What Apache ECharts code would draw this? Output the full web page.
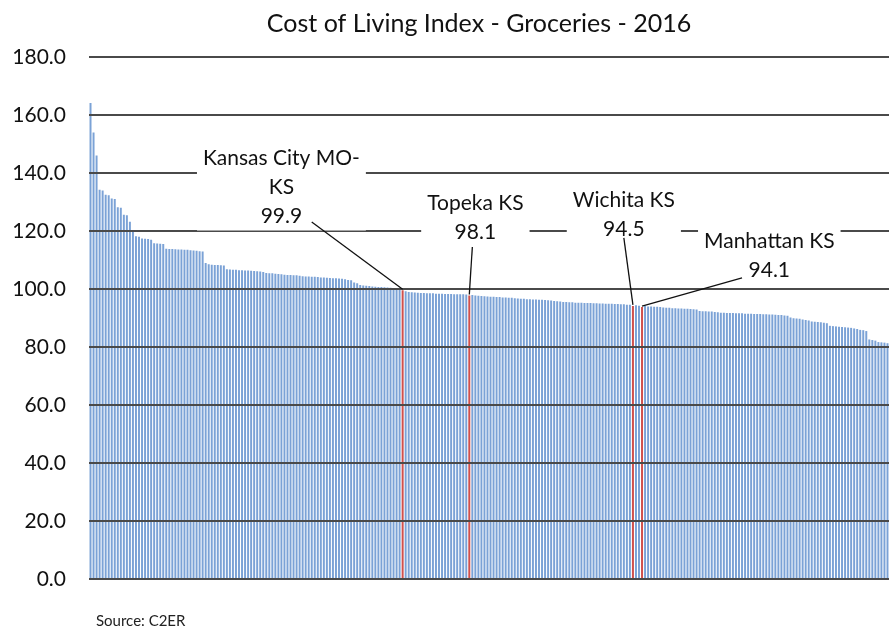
<!DOCTYPE html>
<html>
<head>
<meta charset="utf-8">
<script src="https://cdn.jsdelivr.net/npm/echarts@6/dist/echarts.min.js"></script>
<style>
	html, body { margin: 0; padding: 0; background: #fff; }
	#main { width: 889px; height: 628px; }
</style>
</head>
<body>
<div id="main"></div>
<script>
'use strict';

// grocery index per urban area, sorted high to low
let values = [
	164.1, 154.0, 146.0, 134.2, 134.0, 132.5, 132.3, 131.2, 131.0, 128.2,
	128.0, 125.6, 125.4, 123.2, 120.0, 118.2, 118.0, 117.4, 117.3, 117.2,
	117.0, 115.8, 115.7, 115.6, 115.5,
	113.9, 113.8, 113.8, 113.7, 113.6, 113.6, 113.5, 113.5, 113.4, 113.3, 113.2, 113.0, 112.9,
	109.0, 108.5, 108.4, 108.3, 108.3, 108.2, 108.1,
	106.8, 106.7, 106.6, 106.6, 106.5, 106.5, 106.4, 106.4, 106.3, 106.2, 106.1, 106.0, 105.9,
	105.5, 105.4, 105.4, 105.3, 105.2, 105.1,
	104.9, 104.8, 104.8, 104.7, 104.7, 104.6,
	104.4, 104.3, 104.3, 104.2, 104.2, 104.1, 104.0, 104.0, 103.9, 103.8,
	103.7, 103.7, 103.6, 103.5, 103.4,
	103.1, 103.0, 102.2, 102.0,
	101.4, 101.2, 101.1, 101.0, 100.9,
	100.8, 100.7, 100.7, 100.6, 100.5, 100.4, 100.3, 100.2, 100.1,
	99.9,
	99.2, 99.0, 98.9, 98.8, 98.7,
	98.6, 98.6, 98.5, 98.5, 98.5, 98.4, 98.4, 98.4, 98.3, 98.3, 98.3, 98.2, 98.2, 98.2, 98.2, 98.1,
	98.1,
	97.9, 97.8, 97.7, 97.6, 97.5, 97.4, 97.3, 97.3, 97.2, 97.2, 97.1, 97.1, 97.0, 97.0,
	96.8, 96.7, 96.6, 96.6, 96.5, 96.5, 96.4, 96.4, 96.3, 96.3, 96.2, 96.1, 96.0,
	95.9, 95.8, 95.7,
	95.5, 95.5, 95.4, 95.4, 95.3, 95.3, 95.3, 95.2, 95.2, 95.2, 95.1, 95.1, 95.0,
	95.0, 94.9, 94.9, 94.9, 94.8, 94.8, 94.7, 94.7, 94.6, 94.6,
	94.5,
	94.4, 94.2,
	94.1,
	94.1, 94.0, 94.0, 93.9, 93.9, 93.8,
	93.6, 93.5, 93.5, 93.4, 93.4, 93.3, 93.3, 93.2, 93.2, 93.1, 93.0, 92.9,
	92.4, 92.3, 92.3, 92.2, 92.2, 92.1, 92.0,
	91.8, 91.8, 91.7, 91.7, 91.7, 91.6, 91.6, 91.6, 91.5, 91.5, 91.5, 91.4,
	91.4, 91.4, 91.3, 91.3, 91.2, 91.2, 91.1, 91.0, 91.0, 90.9, 90.8,
	90.2, 89.9, 89.8, 89.7, 89.5, 89.3, 89.1,
	88.8, 88.7, 88.6, 88.5, 88.4, 88.2,
	87.3, 87.2, 87.1, 87.0, 86.9, 86.8, 86.7, 86.6, 86.4, 86.2,
	85.9, 85.8, 85.5,
	82.6, 82.4, 82.2,
	81.7, 81.6, 81.5, 81.3
];

// Kansas areas picked out in red
let kansasNames = ['Kansas City MO-\nKS', 'Topeka KS', 'Wichita KS', 'Manhattan KS'];
let kansasRank = [103, 125, 179, 182];

let yTicks = [0, 20, 40, 60, 80, 100, 120, 140, 160, 180];

// where each callout sits: label centre and leader start, in [rank, index value]
let callouts = [
	{ label: [63, 135.2], from: [73, 123.1] },
	{ label: [127, 124.5], from: [126, 114.5] },
	{ label: [176, 125.6], from: [176, 117.6] },
	{ label: [224, 111.4], from: [215, 103.8] }
];

let category = values.map((v, i) => String(i + 1));

let red = '#d0504c';
let barData = values.map((v, i) => {
	if (kansasRank.indexOf(i) < 0) return v;
	return { value: v, itemStyle: { color: red, borderColor: red, borderWidth: 2 } };
});

let markPoints = [];
let markLines = [];
for (let k = 0; k < kansasRank.length; k++) {
	let r = kansasRank[k];
	let c = callouts[k];
	markPoints.push({
		coord: [category[c.label[0]], c.label[1]],
		label: { formatter: kansasNames[k] + '\n' + values[r].toFixed(1) }
	});
	markLines.push([
		{ coord: [category[c.from[0]], c.from[1]] },
		{ coord: [category[r], values[r]] }
	]);
}

let myChart = echarts.init(document.getElementById('main'));

let font = 'Lato, "Open Sans", sans-serif';

let option = {
	animation: false,
	textStyle: { fontFamily: font },
	title: [{
		text: 'Cost of Living Index - Groceries - 2016',
		left: 474,
		top: 6,
		textAlign: 'center',
		textStyle: { fontFamily: font, fontSize: 25, fontWeight: 'normal', color: '#111' }
	}, {
		text: 'Source: C2ER',
		left: 96,
		top: 613,
		padding: 0,
		textStyle: { fontFamily: font, fontSize: 15, lineHeight: 16, fontWeight: 'normal', color: '#222' }
	}],
	grid: {
		left: 89,
		right: 0,
		top: 57,
		bottom: 49,
		containLabel: false
	},
	xAxis: {
		type: 'category',
		data: category,
		axisLine: { show: false },
		axisTick: { show: false },
		axisLabel: { show: false },
		splitLine: { show: false }
	},
	yAxis: {
		type: 'value',
		z: 3,
		min: yTicks[0],
		max: yTicks[yTicks.length - 1],
		interval: yTicks[1] - yTicks[0],
		axisLine: { show: false },
		axisTick: { show: false },
		axisLabel: {
			formatter: v => v.toFixed(1),
			fontSize: 21,
			color: '#111',
			margin: 23,
			fontFamily: font
		},
		splitLine: { lineStyle: { color: '#4a4a4a', width: 2 } }
	},
	series: [{
		type: 'bar',
		z: 2,
		data: barData,
		barCategoryGap: '35%',
		itemStyle: { color: '#7ba2d6' },
		markPoint: {
			z: 6,
			symbol: 'rect',
			symbolSize: 1,
			itemStyle: { color: 'rgba(0,0,0,0)' },
			label: {
				show: true,
				position: 'inside',
				fontFamily: font,
				fontSize: 21,
				lineHeight: 29,
				color: '#111',
				align: 'center',
				backgroundColor: '#fff',
				padding: [0, 6]
			},
			data: markPoints
		},
		markLine: {
			z: 7,
			symbol: ['none', 'none'],
			silent: true,
			label: { show: false },
			lineStyle: { color: '#111', width: 1.3, type: 'solid' },
			data: markLines
		}
	}]
};
myChart.setOption(option);
</script>
</body>
</html>
